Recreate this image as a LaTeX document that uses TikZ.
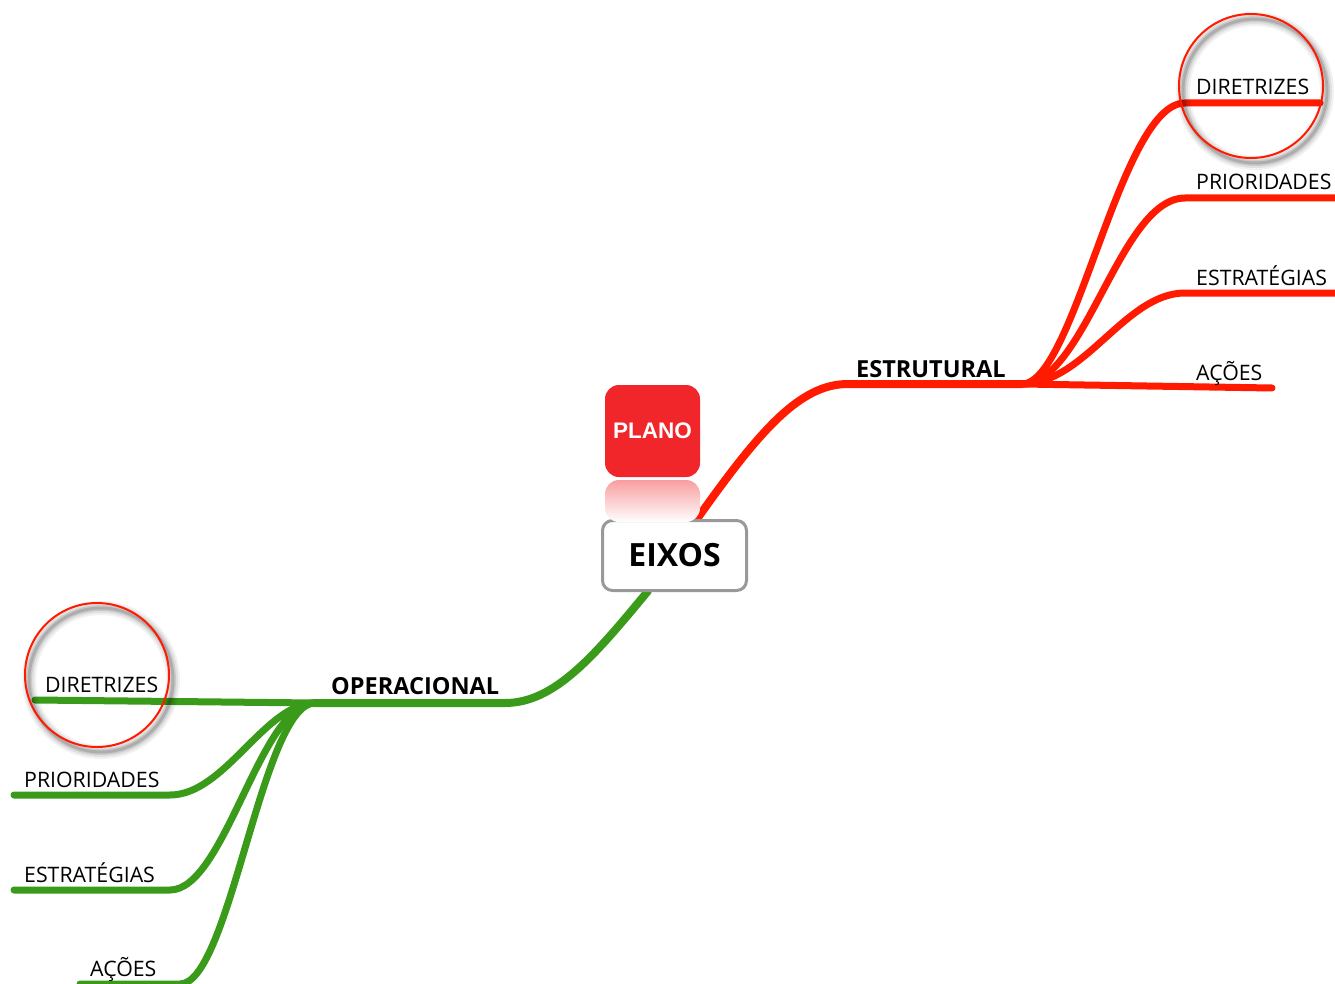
\documentclass[tikz,border=0pt]{standalone}
\usepackage{fontspec}
\setmainfont{Open Sans}
\newfontfamily\arialfont{Liberation Sans}
\definecolor{branchred}{HTML}{FF1A00}
\definecolor{branchgreen}{HTML}{3A9A1A}
\definecolor{planored}{HTML}{F0262A}
\definecolor{boxgray}{HTML}{999999}
\begin{document}
\begin{tikzpicture}[x=1pt,y=-1pt,
  trunk/.style={line width=8, line cap=round},
  twig/.style={line width=7, line cap=round},
  leaf/.style={anchor=base west, inner sep=0, font=\fontsize{21.3}{24}\selectfont},
  topic/.style={anchor=base west, inner sep=0, font=\fontsize{23.5}{27}\selectfont\bfseries},
  ring/.style={draw=branchred, line width=2},
]
\useasboundingbox (0,0) rectangle (1335,984);

% junction and end points
\coordinate (rtop) at (697,519);
\coordinate (rj0) at (848,384);
\coordinate (rj) at (1022,384);
\coordinate (r1) at (1185,103);  \coordinate (r1e) at (1320,103);
\coordinate (r2) at (1185,198);  \coordinate (r2e) at (1340,198);
\coordinate (r3) at (1185,293);  \coordinate (r3e) at (1340,293);
\coordinate (r4e) at (1272,388);

\coordinate (gbot) at (648,591);
\coordinate (gj0) at (505,703);
\coordinate (gj) at (315,703);
\coordinate (g1e) at (35,700);
\coordinate (g2) at (170,795);  \coordinate (g2e) at (14,795);
\coordinate (g3) at (170,890);  \coordinate (g3e) at (14,890);
\coordinate (g4) at (180,984);  \coordinate (g4e) at (80,984);

% red branch
\draw[trunk, branchred] (rtop) .. controls (760,430) and (800,384) .. (rj0) -- (rj);
\begin{scope}[twig, branchred]
  \draw (rj) .. controls (1075,384) and (1120,103) .. (r1) -- (r1e);
  \draw (rj) .. controls (1085,384) and (1120,198) .. (r2) -- (r2e);
  \draw (rj) .. controls (1085,384) and (1125,293) .. (r3) -- (r3e);
  \draw (rj) -- (r4e);
\end{scope}

% green branch
\draw[trunk, branchgreen] (gbot) .. controls (595,655) and (555,703) .. (gj0) -- (gj);
\begin{scope}[twig, branchgreen]
  \draw (gj) -- (g1e);
  \draw (gj) .. controls (265,703) and (225,795) .. (g2) -- (g2e);
  \draw (gj) .. controls (260,703) and (225,890) .. (g3) -- (g3e);
  \draw (gj) .. controls (262,703) and (230,984) .. (g4) -- (g4e);
\end{scope}

% central box
\node[draw=boxgray, line width=3, rounded corners=10, fill=white,
      minimum width=144, minimum height=70, inner sep=0,
      font=\fontsize{32}{36}\selectfont\bfseries] (eixos) at (674.5,555.5) {EIXOS};

% PLANO badge with its reflection
\shade[top color=planored!45, bottom color=white, rounded corners=14]
  (605,480) rectangle (700,522);
\node[fill=planored, rounded corners=14, minimum width=95, minimum height=92,
      inner sep=0, text=white, font=\arialfont\fontsize{22.5}{26}\selectfont\bfseries] (plano) at (652.5,431) {PLANO};

% topic labels
\node[topic] (estrutural) at (856,377) {ESTRUTURAL};
\node[topic] (operacional) at (331,694) {OPERACIONAL};

% leaf labels
\node[leaf] (rdir) at (1196,95) {DIRETRIZES};
\node[leaf] (rpri) at (1196,190) {PRIORIDADES};
\node[leaf] (rest) at (1196,285) {ESTRATÉGIAS};
\node[leaf] (raco) at (1196,380) {AÇÕES};
\node[leaf] (gdir) at (45,692) {DIRETRIZES};
\node[leaf] (gpri) at (24,787) {PRIORIDADES};
\node[leaf] (gest) at (24,882) {ESTRATÉGIAS};
\node[leaf] (gaco) at (90,976) {AÇÕES};

% highlight rings with soft shadow
\foreach \cx/\cy in {1251/86, 97/675}{
  \foreach \w/\o in {14/0.05, 10/0.07, 6/0.1, 3/0.14}{
    \draw[black, opacity=\o, line width=\w] (\cx+4,\cy+5) circle[radius=72];
  }
  \draw[ring] (\cx,\cy) circle[radius=72];
}
\end{tikzpicture}
\end{document}
